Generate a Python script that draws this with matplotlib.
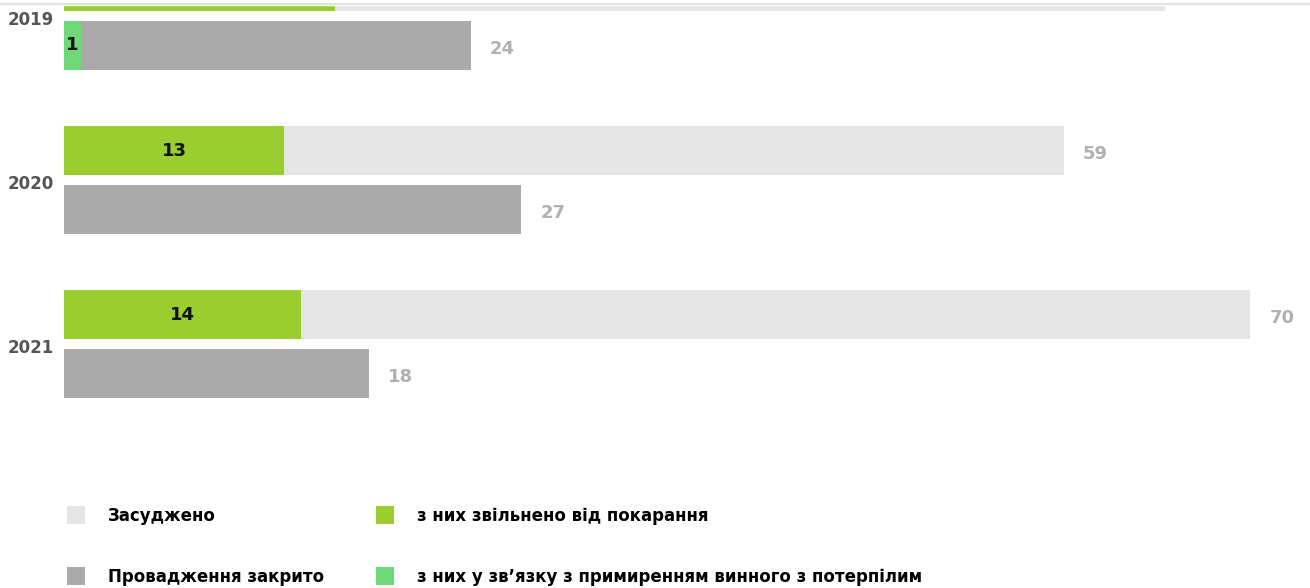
import numpy as np
import matplotlib
matplotlib.use("Agg")
import matplotlib.pyplot as plt
from matplotlib.lines import Line2D
from matplotlib.patches import Rectangle

plt.rcParams['font.family'] = ['DejaVu Sans']
plt.rcParams['font.weight'] = 'bold'

years = ['2019', '2020', '2021']
convicted = [65, 59, 70]
released = [16, 13, 14]
closed = [24, 27, 18]
reconciled = [1, 0, 0]
# the 2019 top bar is cropped at the page edge, its labels are not shown
top_visible = [False, True, True]

labels = ['Засуджено', 'Провадження закрито',
          'з них звільнено від покарання',
          'з них у зв\u2019язку з примиренням винного з потерпілим']

C_CONV = '#e5e5e5'
C_REL = '#9acd2e'
C_CLOSED = '#aaaaaa'
C_RECON = '#6fd97a'
C_VALUE = '#b0b0b0'
C_YEAR = '#555555'

W, H = 1310, 588
PX = 16.943          # pixels per unit on x
GROUP = 164.0        # pixels between year groups
TOP = 80             # axes extends this many px above the figure (cropped)

fig = plt.figure(figsize=(W / 100, H / 100), dpi=100)
ax = fig.add_axes([64 / W, 0, (W - 64) / W, (H + TOP) / H])

y = np.arange(len(years))
off = 29.5 / GROUP
h = 49 / GROUP

b_conv = ax.barh(y - off, convicted, height=h, color=C_CONV, label=labels[0])
b_rel = ax.barh(y - off, released, height=h, color=C_REL, label=labels[2])
b_closed = ax.barh(y + off, closed, height=h, color=C_CLOSED, label=labels[1])
b_recon = ax.barh(y + off, reconciled, height=h, color=C_RECON, label=labels[3])

outer = ax.bar_label(b_conv, padding=14, color=C_VALUE, fontsize=13,
                     labels=[str(v) if s else '' for v, s in zip(convicted, top_visible)])
outer += ax.bar_label(b_closed, padding=14, color=C_VALUE, fontsize=13)
for t in outer:
    t.xyann = (t.xyann[0], t.xyann[1] - 2.5)
ax.bar_label(b_rel, label_type='center', color='#111111', fontsize=13,
             labels=[str(v) if s else '' for v, s in zip(released, top_visible)])
ax.bar_label(b_recon, labels=[str(v) if v else '' for v in reconciled],
             label_type='center', color='#111111', fontsize=13)

for i, yr in enumerate(years):
    ax.text((8 - 64) / PX, i + 0.025, yr, ha='left', va='center',
            color=C_YEAR, fontsize=12, clip_on=False)

ax.set_xlim(0, (W - 64) / PX)
ax.set_ylim((H - 16) / GROUP, (-TOP - 16) / GROUP)
ax.axis('off')

# page edge: white strip and thin rule at the very top
fig.add_artist(Rectangle((0, 1 - 5 / H), 1, 5 / H, transform=fig.transFigure,
                         color='white', zorder=10))
fig.add_artist(Line2D([0, 1], [1 - 3.5 / H] * 2, transform=fig.transFigure,
                      color='#e2e2e2', lw=1.6, zorder=11))

fig.legend(handles=[b_conv, b_closed, b_rel, b_recon], labels=labels,
           ncol=2, loc='upper left', bbox_to_anchor=(67 / W, 1 - 506 / H),
           frameon=False, fontsize=12, handlelength=1.05, handleheight=1.3,
           handletextpad=1.4, labelspacing=2.55, columnspacing=3.15,
           borderpad=0, borderaxespad=0)

fig.savefig('out.png', dpi=100)
